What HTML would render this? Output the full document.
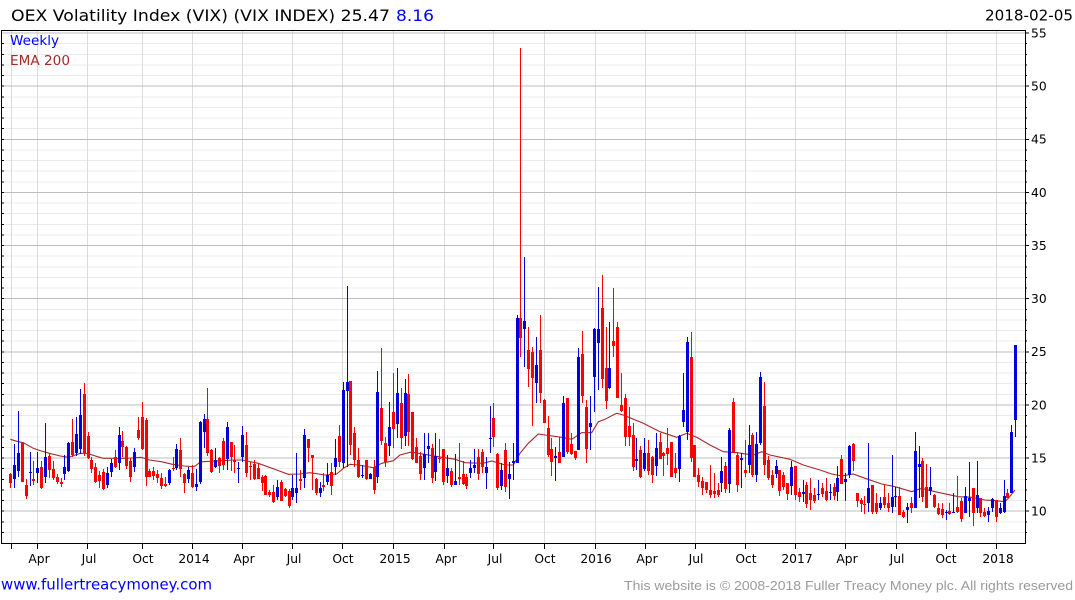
<!DOCTYPE html>
<html><head><meta charset="utf-8"><style>
html,body{margin:0;padding:0;background:#fff;}
svg{display:block;}
text{font-family:"DejaVu Sans","Liberation Sans",sans-serif;}
</style></head><body>
<svg width="1075" height="600" viewBox="0 0 1075 600" xmlns="http://www.w3.org/2000/svg">
<rect x="0" y="0" width="1075" height="600" fill="#fff"/>
<!-- minor horizontal grid -->
<path stroke="#ebebeb" stroke-width="1" fill="none" shape-rendering="crispEdges" d="M2 43.6H1025M2 54.3H1025M2 64.9H1025M2 75.5H1025M2 96.8H1025M2 107.4H1025M2 118H1025M2 128.6H1025M2 149.9H1025M2 160.5H1025M2 171.1H1025M2 181.8H1025M2 203H1025M2 213.6H1025M2 224.3H1025M2 234.9H1025M2 256.1H1025M2 266.8H1025M2 277.4H1025M2 288H1025M2 309.3H1025M2 319.9H1025M2 330.5H1025M2 341.1H1025M2 362.4H1025M2 373H1025M2 383.6H1025M2 394.3H1025M2 415.5H1025M2 426.1H1025M2 436.8H1025M2 447.4H1025M2 468.6H1025M2 479.3H1025M2 489.9H1025M2 500.5H1025M2 521.8H1025M2 532.4H1025"/>
<!-- vertical grid -->
<path stroke="#dcdcdc" stroke-width="1" fill="none" shape-rendering="crispEdges" d="M11.5 31V543M37.5 31V543M87.5 31V543M142.5 31V543M192.5 31V543M242.5 31V543M292.5 31V543M342.5 31V543M393.5 31V543M444.5 31V543M493.5 31V543M544.5 31V543M595.5 31V543M645.5 31V543M695.5 31V543M745.5 31V543M795.5 31V543M845.5 31V543M896.5 31V543M946.5 31V543M996.5 31V543"/>
<!-- major horizontal grid -->
<path stroke="#bdbdbd" stroke-width="1" fill="none" shape-rendering="crispEdges" d="M2 33H1025M2 86.1H1025M2 139.3H1025M2 192.4H1025M2 245.5H1025M2 298.6H1025M2 351.8H1025M2 404.9H1025M2 458H1025M2 511.1H1025"/>

<!-- legend -->
<text x="10" y="45" font-size="13" fill="#0000ff" textLength="49" lengthAdjust="spacingAndGlyphs">Weekly</text>
<text x="10" y="65" font-size="13" fill="#a52a2a" textLength="60" lengthAdjust="spacingAndGlyphs">EMA 200</text>

<!-- EMA -->
<polyline fill="none" stroke="#a52a2a" stroke-width="1.1" points="10.3,439.3 18.3,441.7 23.3,442.7 33.3,448.3 41.3,451 49.3,453.3 60.3,456 68.3,457.3 72.3,456 80.3,453.3 87.3,453.3 95.3,456 103.3,458.3 114.3,458.3 126.3,458.3 141.3,457.3 149.3,460 161.3,461.7 172.3,464.3 184.3,466 192.3,466.7 195.3,466 199.3,462.7 203.3,461.7 233.3,460 242,460 258.3,463.3 276.7,470 288.3,474.3 300,474 310,472.7 325,475 336.7,474 343.3,468.3 350,464.3 358.3,465 373.3,467.7 381.7,463.3 393.3,460.7 400,455 410,452.3 415,452.7 438.3,456.7 455,459.3 465,462.7 483.3,463.3 491.7,461 505,465 513.3,465 520,453.3 528.3,443.3 538.3,434 545,435 561.7,437.3 571.7,439.3 581.7,432.7 591.7,432.7 598.3,421.7 605,419.3 615,414 616.7,413.3 623.3,415 643.3,423.3 660,431.7 676.7,437.3 686.7,433.3 696.7,437.3 710,445 723.3,451.7 736.7,452.7 753.3,455 761.7,451.7 770,455 790,459.3 803.3,465 820,470 831.7,474 841.7,476 853.3,474 865,478.3 881.7,484 895,486.7 911.7,491.7 921.7,488.3 935,491.7 958.3,496.7 971.7,497.3 985,500 995,500.7 1005,501.7 1008.3,498.3 1015,490"/>

<!-- red candles -->
<g shape-rendering="crispEdges">
<path fill="none" stroke="#ff0000" stroke-width="1" d="M10.5 473V488 M22.5 443V482 M26.5 479V499 M33.5 461V485 M41.5 461V489 M49.5 453V478 M53.5 461V480 M57.5 474V484 M61.5 478V487 M72.5 419V457 M84.5 383V456 M88.5 432V459 M91.5 457V473 M95.5 463V483 M99.5 471V488 M103.5 469V490 M115.5 450V468 M122.5 431V457 M126.5 446V469 M130.5 458V482 M138.5 417V440 M142.5 402V450 M146.5 418V486 M149.5 469V477 M153.5 467V480 M157.5 470V483 M161.5 473V489 M165.5 477V487 M173.5 457V471 M180.5 438V477 M184.5 473V493 M192.5 465V488 M207.5 388V456 M211.5 449V473 M219.5 457V473 M223.5 438V470 M231.5 442V471 M234.5 445V473 M246.5 432V477 M250.5 462V480 M254.5 460V480 M258.5 463V479 M262.5 475V491 M265.5 475V495 M269.5 490V497 M273.5 485V503 M281.5 480V501 M285.5 488V497 M289.5 489V508 M300.5 470V490 M308.5 439V462 M312.5 455V490 M316.5 478V495 M323.5 473V491 M331.5 463V495 M339.5 425V467 M350.5 381V455 M354.5 427V467 M358.5 448V478 M366.5 460V480 M374.5 460V494 M381.5 348V445 M385.5 437V467 M393.5 373V448 M401.5 388V449 M408.5 374V446 M412.5 412V460 M416.5 438V463 M420.5 452V480 M432.5 444V483 M439.5 439V463 M443.5 449V485 M451.5 468V487 M459.5 443V485 M463.5 461V485 M466.5 474V489 M478.5 449V480 M482.5 449V473 M493.5 403V447 M497.5 453V490 M505.5 443V492 M520.5 48V357 M528.5 327V387 M532.5 347V426 M540.5 315V403 M544.5 399V423 M548.5 416V457 M551.5 438V476 M559.5 437V463 M567.5 398V454 M571.5 433V455 M575.5 451V460 M582.5 331V403 M586.5 400V463 M602.5 275V388 M606.5 327V409 M613.5 288V357 M617.5 322V398 M621.5 373V412 M625.5 394V446 M629.5 407V446 M633.5 423V471 M640.5 446V478 M648.5 440V475 M652.5 456V483 M660.5 433V459 M663.5 452V476 M667.5 428V465 M671.5 442V477 M675.5 453V478 M691.5 332V462 M694.5 445V477 M698.5 468V487 M702.5 477V495 M706.5 482V493 M710.5 465V498 M714.5 473V498 M718.5 483V497 M725.5 462V493 M733.5 398V453 M737.5 452V492 M745.5 440V477 M752.5 433V477 M764.5 382V475 M768.5 456V480 M772.5 470V488 M779.5 470V496 M783.5 472V490 M787.5 483V500 M795.5 466V500 M799.5 488V502 M806.5 482V508 M810.5 478V510 M814.5 488V503 M822.5 483V497 M826.5 478V501 M834.5 483V500 M841.5 455V484 M853.5 443V471 M857.5 493V507 M861.5 498V512 M864.5 496V514 M872.5 485V514 M876.5 493V514 M884.5 485V508 M888.5 493V512 M899.5 487V515 M903.5 510V518 M911.5 497V513 M922.5 458V502 M926.5 464V508 M934.5 494V508 M938.5 503V515 M942.5 503V518 M949.5 503V515 M957.5 476V513 M961.5 498V522 M973.5 488V526 M980.5 498V517 M984.5 508V517 M996.5 500V522 M1007.5 489V498"/>
<path fill="#ff0000" d="M9 474h3V483h-3zM21 443h3V482h-3zM25 485h3V496h-3zM32 479h3V481h-3zM40 467h3V488h-3zM48 456h3V470h-3zM52 469h3V478h-3zM56 477h3V482h-3zM60 482h3V484h-3zM71 442h3V455h-3zM83 394h3V453h-3zM87 436h3V458h-3zM90 460h3V469h-3zM94 467h3V482h-3zM98 475h3V481h-3zM102 472h3V489h-3zM114 457h3V467h-3zM121 441h3V447h-3zM125 447h3V466h-3zM129 461h3V477h-3zM137 430h3V438h-3zM141 417h3V449h-3zM145 420h3V477h-3zM148 471h3V477h-3zM152 471h3V476h-3zM156 474h3V478h-3zM160 478h3V486h-3zM164 484h3V486h-3zM172 468h3V469h-3zM179 450h3V469h-3zM183 474h3V483h-3zM191 473h3V487h-3zM206 419h3V453h-3zM210 450h3V472h-3zM218 458h3V466h-3zM222 441h3V465h-3zM230 442h3V457h-3zM233 460h3V462h-3zM245 445h3V473h-3zM249 466h3V467h-3zM253 464h3V479h-3zM257 468h3V479h-3zM261 477h3V483h-3zM264 476h3V495h-3zM268 492h3V495h-3zM272 492h3V502h-3zM280 482h3V501h-3zM284 489h3V496h-3zM288 491h3V506h-3zM299 479h3V481h-3zM307 439h3V448h-3zM311 455h3V458h-3zM315 479h3V493h-3zM322 485h3V487h-3zM330 472h3V486h-3zM338 436h3V462h-3zM349 381h3V445h-3zM353 433h3V460h-3zM357 460h3V477h-3zM365 460h3V479h-3zM373 467h3V490h-3zM380 408h3V441h-3zM384 443h3V462h-3zM392 412h3V429h-3zM400 403h3V438h-3zM407 394h3V432h-3zM411 412h3V459h-3zM415 447h3V463h-3zM419 456h3V474h-3zM431 448h3V478h-3zM438 458h3V459h-3zM442 449h3V482h-3zM450 471h3V485h-3zM458 477h3V479h-3zM462 474h3V484h-3zM465 477h3V486h-3zM477 457h3V474h-3zM481 452h3V467h-3zM492 418h3V437h-3zM496 454h3V488h-3zM504 450h3V487h-3zM519 318h3V338h-3zM527 350h3V369h-3zM531 352h3V378h-3zM539 350h3V393h-3zM543 400h3V423h-3zM547 428h3V455h-3zM550 449h3V462h-3zM558 452h3V463h-3zM566 398h3V452h-3zM570 444h3V454h-3zM574 451h3V458h-3zM581 354h3V396h-3zM585 407h3V449h-3zM601 308h3V379h-3zM605 368h3V401h-3zM612 341h3V346h-3zM616 327h3V398h-3zM620 405h3V411h-3zM624 398h3V437h-3zM628 426h3V437h-3zM632 435h3V467h-3zM639 450h3V477h-3zM647 453h3V471h-3zM651 457h3V475h-3zM659 442h3V459h-3zM662 453h3V456h-3zM666 448h3V454h-3zM670 442h3V477h-3zM674 468h3V473h-3zM690 357h3V458h-3zM693 445h3V477h-3zM697 475h3V482h-3zM701 481h3V488h-3zM705 482h3V490h-3zM709 490h3V495h-3zM713 491h3V494h-3zM717 490h3V495h-3zM724 466h3V489h-3zM732 402h3V453h-3zM736 455h3V485h-3zM744 470h3V473h-3zM751 435h3V475h-3zM763 406h3V465h-3zM767 460h3V478h-3zM771 475h3V485h-3zM778 470h3V491h-3zM782 475h3V487h-3zM786 483h3V494h-3zM794 466h3V495h-3zM798 492h3V497h-3zM805 485h3V504h-3zM809 493h3V500h-3zM813 495h3V501h-3zM821 488h3V494h-3zM825 491h3V500h-3zM833 487h3V496h-3zM840 459h3V484h-3zM852 444h3V461h-3zM856 493h3V501h-3zM860 500h3V504h-3zM863 504h3V505h-3zM871 485h3V512h-3zM875 503h3V512h-3zM883 497h3V505h-3zM887 503h3V508h-3zM898 496h3V515h-3zM902 512h3V517h-3zM910 503h3V508h-3zM921 461h3V497h-3zM925 487h3V508h-3zM933 495h3V507h-3zM937 508h3V514h-3zM941 509h3V515h-3zM948 511h3V514h-3zM956 507h3V512h-3zM960 501h3V519h-3zM972 488h3V513h-3zM979 498h3V513h-3zM983 512h3V516h-3zM995 500h3V517h-3zM1006 493h3V498h-3z"/>
<!-- blue candles -->
<path fill="none" stroke="#0000e0" stroke-width="1" d="M14.5 444V488 M18.5 411V477 M30.5 452V486 M37.5 452V483 M45.5 423V483 M64.5 455V480 M68.5 442V472 M76.5 417V456 M80.5 389V454 M107.5 467V488 M111.5 459V477 M119.5 427V470 M134.5 448V472 M169.5 469V485 M176.5 444V470 M188.5 467V483 M196.5 469V491 M200.5 421V484 M204.5 414V448 M215.5 448V468 M227.5 422V470 M238.5 462V483 M242.5 426V462 M277.5 480V500 M292.5 475V500 M296.5 453V503 M304.5 429V488 M320.5 482V497 M327.5 463V485 M335.5 439V475 M343.5 382V468 M347.5 286V467 M362.5 465V478 M370.5 473V479 M377.5 371V483 M389.5 402V456 M397.5 368V438 M405.5 379V446 M424.5 433V480 M428.5 433V463 M435.5 433V481 M447.5 455V483 M455.5 454V485 M470.5 460V478 M474.5 449V473 M486.5 457V489 M490.5 406V453 M501.5 463V490 M509.5 462V499 M513.5 443V480 M517.5 315V463 M524.5 257V367 M536.5 337V403 M555.5 447V481 M563.5 396V457 M578.5 348V450 M590.5 396V450 M594.5 328V412 M598.5 287V390 M609.5 322V389 M636.5 438V470 M644.5 438V471 M656.5 433V476 M679.5 435V482 M683.5 373V427 M687.5 337V440 M721.5 457V492 M729.5 428V493 M741.5 453V488 M749.5 425V473 M756.5 432V482 M760.5 372V445 M776.5 460V478 M791.5 461V495 M803.5 480V502 M818.5 480V500 M830.5 484V500 M837.5 466V501 M845.5 473V501 M849.5 445V478 M868.5 443V512 M880.5 497V510 M892.5 455V513 M895.5 487V507 M907.5 503V523 M915.5 432V508 M919.5 446V498 M930.5 467V495 M946.5 510V520 M953.5 493V513 M965.5 487V513 M969.5 462V517 M977.5 461V513 M988.5 507V522 M992.5 498V512 M1000.5 503V514 M1004.5 480V513 M1011.5 425V493 M1015.5 345V437"/>
<path fill="#0000e0" d="M13 465h3V479h-3zM17 453h3V471h-3zM29 472h3V473h-3zM36 468h3V473h-3zM44 457h3V477h-3zM63 467h3V474h-3zM67 443h3V471h-3zM75 434h3V453h-3zM79 415h3V449h-3zM106 473h3V485h-3zM110 463h3V472h-3zM118 435h3V463h-3zM133 452h3V467h-3zM168 470h3V483h-3zM175 449h3V468h-3zM187 470h3V479h-3zM195 484h3V487h-3zM199 422h3V482h-3zM203 419h3V432h-3zM214 460h3V467h-3zM226 427h3V459h-3zM237 468h3V469h-3zM241 435h3V457h-3zM276 487h3V497h-3zM291 488h3V497h-3zM295 488h3V493h-3zM303 435h3V478h-3zM319 488h3V493h-3zM326 475h3V482h-3zM334 458h3V467h-3zM342 390h3V463h-3zM346 382h3V391h-3zM361 475h3V476h-3zM369 474h3V479h-3zM376 392h3V477h-3zM388 427h3V446h-3zM396 393h3V424h-3zM404 393h3V436h-3zM423 454h3V468h-3zM427 446h3V449h-3zM434 456h3V472h-3zM446 468h3V476h-3zM454 481h3V485h-3zM469 468h3V473h-3zM473 465h3V468h-3zM485 467h3V473h-3zM489 438h3V439h-3zM500 470h3V486h-3zM508 474h3V479h-3zM512 461h3V463h-3zM516 318h3V463h-3zM523 321h3V329h-3zM535 365h3V383h-3zM554 456h3V458h-3zM562 403h3V457h-3zM577 357h3V450h-3zM589 423h3V427h-3zM593 329h3V377h-3zM597 329h3V343h-3zM608 368h3V388h-3zM635 459h3V461h-3zM643 453h3V469h-3zM655 448h3V466h-3zM678 436h3V469h-3zM682 410h3V422h-3zM686 342h3V432h-3zM720 471h3V483h-3zM728 430h3V484h-3zM740 458h3V460h-3zM748 445h3V465h-3zM755 444h3V475h-3zM759 377h3V443h-3zM775 466h3V474h-3zM790 467h3V486h-3zM802 492h3V494h-3zM817 494h3V495h-3zM829 492h3V493h-3zM836 478h3V492h-3zM844 479h3V482h-3zM848 446h3V475h-3zM867 488h3V503h-3zM879 503h3V508h-3zM891 497h3V507h-3zM894 496h3V497h-3zM906 507h3V510h-3zM914 451h3V508h-3zM918 464h3V467h-3zM929 487h3V491h-3zM945 512h3V513h-3zM952 512h3V513h-3zM964 496h3V513h-3zM968 498h3V501h-3zM976 495h3V508h-3zM987 511h3V515h-3zM991 499h3V508h-3zM999 508h3V513h-3zM1003 496h3V512h-3zM1010 432h3V493h-3zM1014 345h3V420h-3z"/>
</g>

<!-- frame -->
<g shape-rendering="crispEdges" stroke="#000" stroke-width="1" fill="none">
<path d="M1 30.5H1025.5V543.5H1.5V30.5"/>
<!-- right ticks minor -->
<path d="M1025 43.6h2M1025 54.3h2M1025 64.9h2M1025 75.5h2M1025 96.8h2M1025 107.4h2M1025 118h2M1025 128.6h2M1025 149.9h2M1025 160.5h2M1025 171.1h2M1025 181.8h2M1025 203h2M1025 213.6h2M1025 224.3h2M1025 234.9h2M1025 256.1h2M1025 266.8h2M1025 277.4h2M1025 288h2M1025 309.3h2M1025 319.9h2M1025 330.5h2M1025 341.1h2M1025 362.4h2M1025 373h2M1025 383.6h2M1025 394.3h2M1025 415.5h2M1025 426.1h2M1025 436.8h2M1025 447.4h2M1025 468.6h2M1025 479.3h2M1025 489.9h2M1025 500.5h2M1025 521.8h2M1025 532.4h2"/>
<path d="M1025 33h4M1025 86.1h4M1025 139.3h4M1025 192.4h4M1025 245.5h4M1025 298.6h4M1025 351.8h4M1025 404.9h4M1025 458h4M1025 511.1h4"/>
<!-- left ticks -->
<path d="M1 43.6h3M1 54.3h3M1 64.9h3M1 75.5h3M1 86.1h3M1 96.8h3M1 107.4h3M1 118h3M1 128.6h3M1 139.3h3M1 149.9h3M1 160.5h3M1 171.1h3M1 181.8h3M1 192.4h3M1 203h3M1 213.6h3M1 224.3h3M1 234.9h3M1 245.5h3M1 256.1h3M1 266.8h3M1 277.4h3M1 288h3M1 298.6h3M1 309.3h3M1 319.9h3M1 330.5h3M1 341.1h3M1 351.8h3M1 362.4h3M1 373h3M1 383.6h3M1 394.3h3M1 404.9h3M1 415.5h3M1 426.1h3M1 436.8h3M1 447.4h3M1 458h3M1 468.6h3M1 479.3h3M1 489.9h3M1 500.5h3M1 511.1h3M1 521.8h3M1 532.4h3"/>
<!-- bottom ticks -->
<path d="M11.5 543V549M37.5 543V549M87.5 543V549M142.5 543V549M192.5 543V549M242.5 543V549M292.5 543V549M342.5 543V549M393.5 543V549M444.5 543V549M493.5 543V549M544.5 543V549M595.5 543V549M645.5 543V549M695.5 543V549M745.5 543V549M795.5 543V549M845.5 543V549M896.5 543V549M946.5 543V549M996.5 543V549"/>
</g>

<!-- right labels -->
<g font-size="12.3" fill="#000">
<text x="1031" y="37.5">55</text>
<text x="1031" y="90.5">50</text>
<text x="1031" y="143.7">45</text>
<text x="1031" y="196.8">40</text>
<text x="1031" y="249.9">35</text>
<text x="1031" y="303">30</text>
<text x="1031" y="356.2">25</text>
<text x="1031" y="409.3">20</text>
<text x="1031" y="462.4">15</text>
<text x="1031" y="515.5">10</text>
</g>

<!-- bottom labels -->
<g font-size="12.3" fill="#000" text-anchor="middle">
<text x="39" y="563">Apr</text>
<text x="89" y="563">Jul</text>
<text x="143" y="563">Oct</text>
<text x="194" y="563">2014</text>
<text x="244" y="563">Apr</text>
<text x="294" y="563">Jul</text>
<text x="343" y="563">Oct</text>
<text x="395" y="563">2015</text>
<text x="446" y="563">Apr</text>
<text x="495" y="563">Jul</text>
<text x="545" y="563">Oct</text>
<text x="596" y="563">2016</text>
<text x="647" y="563">Apr</text>
<text x="696" y="563">Jul</text>
<text x="746" y="563">Oct</text>
<text x="797" y="563">2017</text>
<text x="847" y="563">Apr</text>
<text x="897" y="563">Jul</text>
<text x="946" y="563">Oct</text>
<text x="998" y="563">2018</text>
</g>

<!-- title -->
<text x="11" y="21" font-size="16" fill="#000" textLength="379" lengthAdjust="spacingAndGlyphs">OEX Volatility Index (VIX) (VIX INDEX) 25.47</text>
<text x="396" y="21" font-size="16" fill="#0000ff" textLength="38" lengthAdjust="spacingAndGlyphs">8.16</text>
<text x="985" y="20.5" font-size="15" fill="#000" textLength="88" lengthAdjust="spacingAndGlyphs">2018-02-05</text>

<!-- footer -->
<text x="1" y="589.5" font-size="14.7" fill="#0000ff" textLength="211" lengthAdjust="spacingAndGlyphs">www.fullertreacymoney.com</text>
<text x="624" y="590" font-size="13" fill="#9a9a9a" textLength="449" lengthAdjust="spacingAndGlyphs" style="font-family:'Liberation Sans',sans-serif">This website is © 2008-2018 Fuller Treacy Money plc. All rights reserved</text>
</svg>
</body></html>
